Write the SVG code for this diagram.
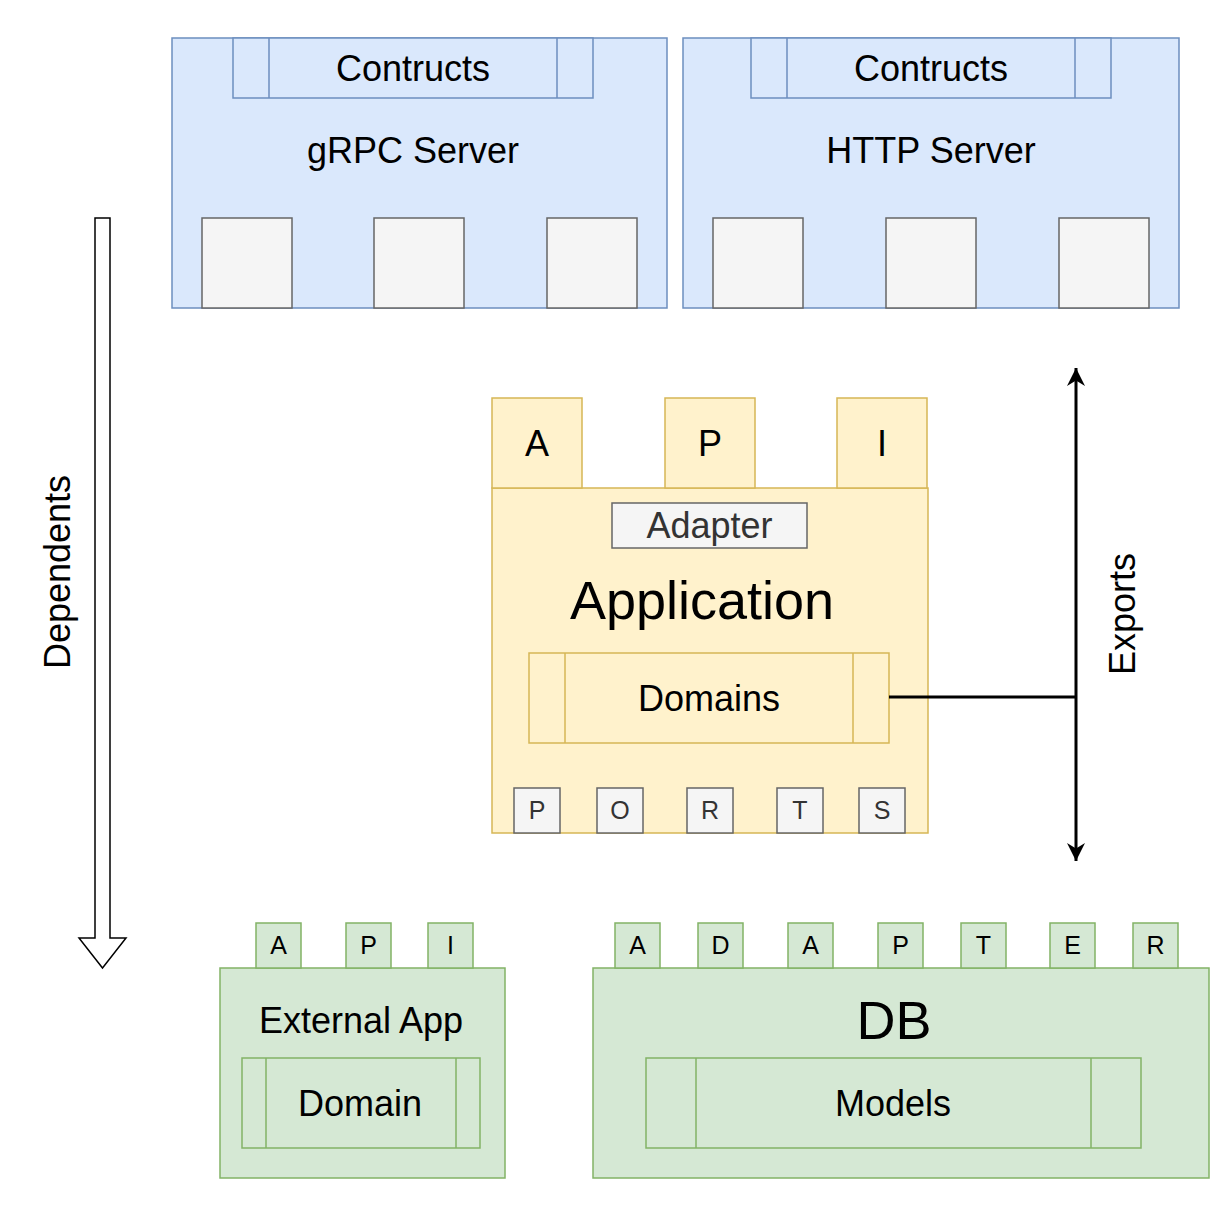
<svg xmlns="http://www.w3.org/2000/svg" width="1230" height="1210" viewBox="0 0 1230 1210">
<style>
text{font-family:"Liberation Sans",Arial,Helvetica,sans-serif;fill:#000;text-anchor:middle;dominant-baseline:central}
.blue{fill:#dae8fc;stroke:#6c8ebf;stroke-width:1.5}
.yel{fill:#fff2cc;stroke:#d6b656;stroke-width:1.5}
.grn{fill:#d5e8d4;stroke:#82b366;stroke-width:1.5}
.gry{fill:#f5f5f5;stroke:#666666;stroke-width:1.5}
.f36{font-size:36px}
.f54{font-size:54px}
.f24{font-size:25px}
.g3{fill:#333333}
.ln{stroke-width:1.5;fill:none}
</style>
<defs>
<marker id="ah" viewBox="0 0 10 10" refX="10" refY="5" markerWidth="6" markerHeight="6" orient="auto-start-reverse" markerUnits="strokeWidth">
<path d="M0,0 L10,5 L0,10 L3,5 Z" fill="#000"/>
</marker>
</defs>

<g id="grpc-server">
<rect class="blue" x="172" y="38" width="495" height="270"/>
<rect class="blue" x="233" y="38" width="360" height="60"/>
<line class="ln" stroke="#6c8ebf" x1="269" y1="38" x2="269" y2="98"/>
<line class="ln" stroke="#6c8ebf" x1="557" y1="38" x2="557" y2="98"/>
<text class="f36" x="413" y="68">Contructs</text>
<text class="f36" x="413" y="150">gRPC Server</text>
<rect class="gry" x="202" y="218" width="90" height="90"/>
<rect class="gry" x="374" y="218" width="90" height="90"/>
<rect class="gry" x="547" y="218" width="90" height="90"/>
</g>

<g id="http-server">
<rect class="blue" x="683" y="38" width="496" height="270"/>
<rect class="blue" x="751" y="38" width="360" height="60"/>
<line class="ln" stroke="#6c8ebf" x1="787" y1="38" x2="787" y2="98"/>
<line class="ln" stroke="#6c8ebf" x1="1075" y1="38" x2="1075" y2="98"/>
<text class="f36" x="931" y="68">Contructs</text>
<text class="f36" x="931" y="150">HTTP Server</text>
<rect class="gry" x="713" y="218" width="90" height="90"/>
<rect class="gry" x="886" y="218" width="90" height="90"/>
<rect class="gry" x="1059" y="218" width="90" height="90"/>
</g>

<g id="application">
<rect class="yel" x="492" y="488" width="436" height="345"/>
<rect class="yel" x="492" y="398" width="90" height="90"/>
<rect class="yel" x="665" y="398" width="90" height="90"/>
<rect class="yel" x="837" y="398" width="90" height="90"/>
<text class="f36" x="537" y="443">A</text>
<text class="f36" x="710" y="443">P</text>
<text class="f36" x="882" y="443">I</text>
<rect class="gry" x="612" y="503" width="195" height="45"/>
<text class="f36 g3" x="709.5" y="525">Adapter</text>
<text class="f54" x="702" y="600">Application</text>
<rect class="yel" x="529" y="653" width="360" height="90"/>
<line class="ln" stroke="#d6b656" x1="565" y1="653" x2="565" y2="743"/>
<line class="ln" stroke="#d6b656" x1="853" y1="653" x2="853" y2="743"/>
<text class="f36" x="709" y="698">Domains</text>
<rect class="gry" x="514" y="788" width="46" height="45"/>
<rect class="gry" x="597" y="788" width="46" height="45"/>
<rect class="gry" x="687" y="788" width="46" height="45"/>
<rect class="gry" x="777" y="788" width="46" height="45"/>
<rect class="gry" x="859" y="788" width="46" height="45"/>
<text class="f24 g3" x="537" y="810">P</text>
<text class="f24 g3" x="620" y="810">O</text>
<text class="f24 g3" x="710" y="810">R</text>
<text class="f24 g3" x="800" y="810">T</text>
<text class="f24 g3" x="882" y="810">S</text>
</g>

<g id="external-app">
<rect class="grn" x="220" y="968" width="285" height="210"/>
<rect class="grn" x="256" y="923" width="45" height="45"/>
<rect class="grn" x="346" y="923" width="45" height="45"/>
<rect class="grn" x="428" y="923" width="45" height="45"/>
<text class="f24" x="278.5" y="945">A</text>
<text class="f24" x="368.5" y="945">P</text>
<text class="f24" x="450.5" y="945">I</text>
<text class="f36" x="361" y="1020">External App</text>
<rect class="grn" x="242" y="1058" width="238" height="90"/>
<line class="ln" stroke="#82b366" x1="266" y1="1058" x2="266" y2="1148"/>
<line class="ln" stroke="#82b366" x1="456" y1="1058" x2="456" y2="1148"/>
<text class="f36" x="360" y="1103">Domain</text>
</g>

<g id="db">
<rect class="grn" x="593" y="968" width="616" height="210"/>
<rect class="grn" x="615" y="923" width="45" height="45"/>
<rect class="grn" x="698" y="923" width="45" height="45"/>
<rect class="grn" x="788" y="923" width="45" height="45"/>
<rect class="grn" x="878" y="923" width="45" height="45"/>
<rect class="grn" x="961" y="923" width="45" height="45"/>
<rect class="grn" x="1050" y="923" width="45" height="45"/>
<rect class="grn" x="1133" y="923" width="45" height="45"/>
<text class="f24" x="637.5" y="945">A</text>
<text class="f24" x="720.5" y="945">D</text>
<text class="f24" x="810.5" y="945">A</text>
<text class="f24" x="900.5" y="945">P</text>
<text class="f24" x="983.5" y="945">T</text>
<text class="f24" x="1072.5" y="945">E</text>
<text class="f24" x="1155.5" y="945">R</text>
<text class="f54" x="894" y="1020">DB</text>
<rect class="grn" x="646" y="1058" width="495" height="90"/>
<line class="ln" stroke="#82b366" x1="696" y1="1058" x2="696" y2="1148"/>
<line class="ln" stroke="#82b366" x1="1091" y1="1058" x2="1091" y2="1148"/>
<text class="f36" x="893" y="1103">Models</text>
</g>

<g id="connectors">
<path d="M95,218 L110,218 L110,938 L126,938 L102.5,968 L79,938 L95,938 Z" fill="#fff" stroke="#000" stroke-width="1.5" stroke-linejoin="miter"/>
<line x1="1076" y1="368" x2="1076" y2="861" stroke="#000" stroke-width="3" marker-start="url(#ah)" marker-end="url(#ah)"/>
<line x1="889" y1="697" x2="1076" y2="697" stroke="#000" stroke-width="3"/>
<text class="f36" transform="translate(57,572) rotate(-90)">Dependents</text>
<text class="f36" transform="translate(1122,614) rotate(-90)">Exports</text>
</g>
</svg>
